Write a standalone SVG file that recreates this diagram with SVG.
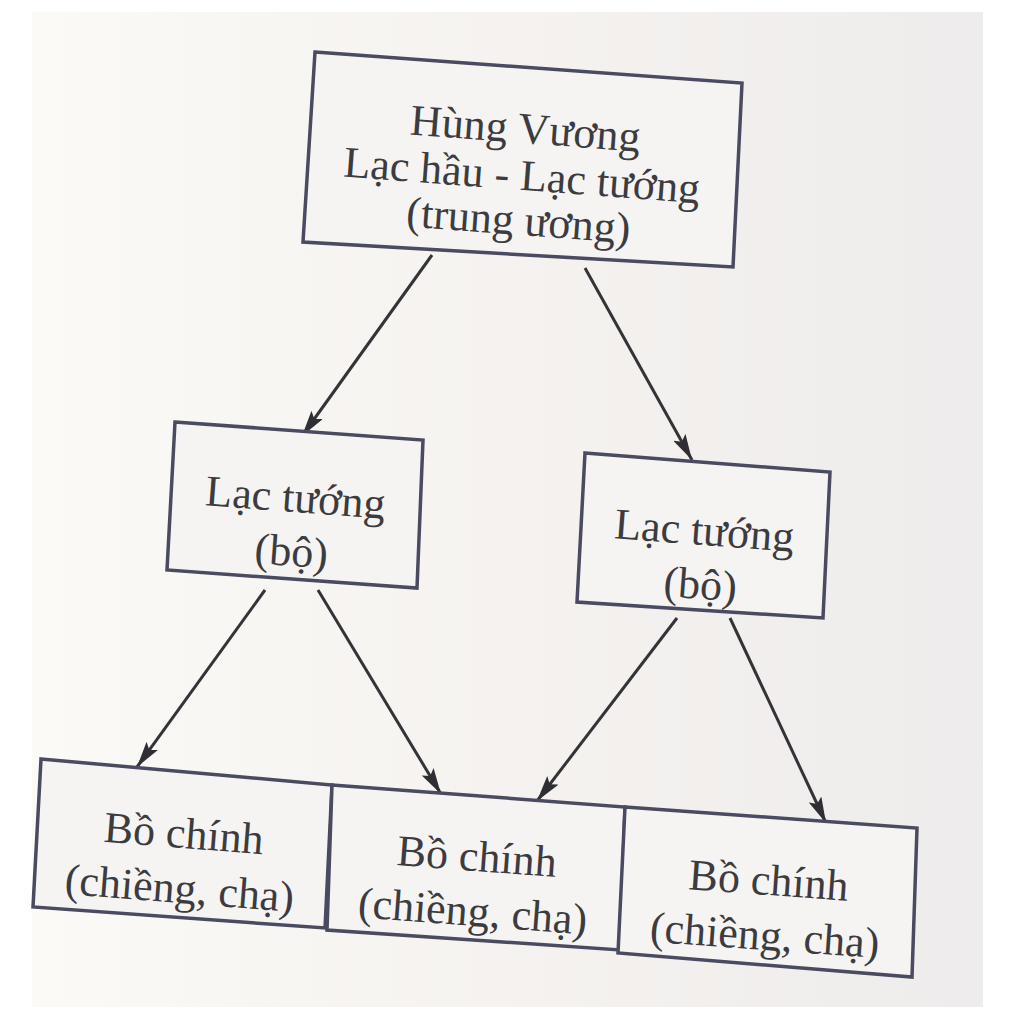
<svg xmlns="http://www.w3.org/2000/svg" width="1024" height="1030" viewBox="0 0 1024 1030">
  <defs>
    <linearGradient id="paper" x1="0" y1="0" x2="1" y2="0">
      <stop offset="0" stop-color="#fbfaf7"/>
      <stop offset="0.5" stop-color="#f5f2ef"/>
      <stop offset="1" stop-color="#eeecec"/>
    </linearGradient>
    <marker id="arrow" markerUnits="userSpaceOnUse" markerWidth="30" markerHeight="14" refX="26" refY="7" orient="auto">
      <path d="M0,0 L26,7 L0,14 L5,7 z" fill="#2e2e34"/>
    </marker>
    <style>
      .box { fill: #f6f4f2; stroke: #4a4a60; stroke-width: 3.5; stroke-linejoin: miter; }
      .lbl { font-family: "Liberation Serif", "Times New Roman", serif; font-size: 44px; fill: #3c3c40; text-anchor: middle; }
      .conn { stroke: #333338; stroke-width: 3; fill: none; marker-end: url(#arrow); }
    </style>
  </defs>

  <rect x="0" y="0" width="1024" height="1030" fill="#ffffff"/>
  <rect x="32" y="12" width="951" height="995" fill="url(#paper)"/>

  <g id="connectors">
    <line class="conn" x1="432" y1="255" x2="302" y2="436"/>
    <line class="conn" x1="585" y1="268" x2="692" y2="460"/>
    <line class="conn" x1="265" y1="590" x2="137" y2="767"/>
    <line class="conn" x1="318" y1="590" x2="441" y2="794"/>
    <line class="conn" x1="677" y1="618" x2="537" y2="801"/>
    <line class="conn" x1="730" y1="618" x2="826" y2="823"/>
  </g>

  <g id="hung-vuong">
    <polygon class="box" points="315,52 742,83 733,267 303,242"/>
    <g transform="rotate(4.3 523 161)">
      <text class="lbl" x="523" y="143">Hùng Vương</text>
      <text class="lbl" x="523" y="190">Lạc hầu - Lạc tướng</text>
      <text class="lbl" x="523" y="235">(trung ương)</text>
    </g>
  </g>

  <g id="lac-tuong-1">
    <polygon class="box" points="175,422 423,440 417,588 167,570"/>
    <g transform="rotate(4.3 295 505)">
      <text class="lbl" x="295" y="512">Lạc tướng</text>
      <text class="lbl" x="295" y="566">(bộ)</text>
    </g>
  </g>

  <g id="lac-tuong-2">
    <polygon class="box" points="585,453 830,472 823,618 577,602"/>
    <g transform="rotate(4.3 704 536)">
      <text class="lbl" x="704" y="545">Lạc tướng</text>
      <text class="lbl" x="704" y="599">(bộ)</text>
    </g>
  </g>

  <g id="bo-chinh-1">
    <polygon class="box" points="41,759 332,785 325,928 33,907"/>
    <g transform="rotate(4.5 183 845)">
      <text class="lbl" x="183" y="848">Bồ chính</text>
      <text class="lbl" x="183" y="903">(chiềng, chạ)</text>
    </g>
  </g>

  <g id="bo-chinh-2">
    <polygon class="box" points="332,785 625,807 620,950 327,930"/>
    <g transform="rotate(4.3 476 868)">
      <text class="lbl" x="476" y="871">Bồ chính</text>
      <text class="lbl" x="476" y="926">(chiềng, chạ)</text>
    </g>
  </g>

  <g id="bo-chinh-3">
    <polygon class="box" points="625,807 917,828 912,977 618,953"/>
    <g transform="rotate(4.1 768 891)">
      <text class="lbl" x="768" y="895">Bồ chính</text>
      <text class="lbl" x="768" y="950">(chiềng, chạ)</text>
    </g>
  </g>
</svg>
